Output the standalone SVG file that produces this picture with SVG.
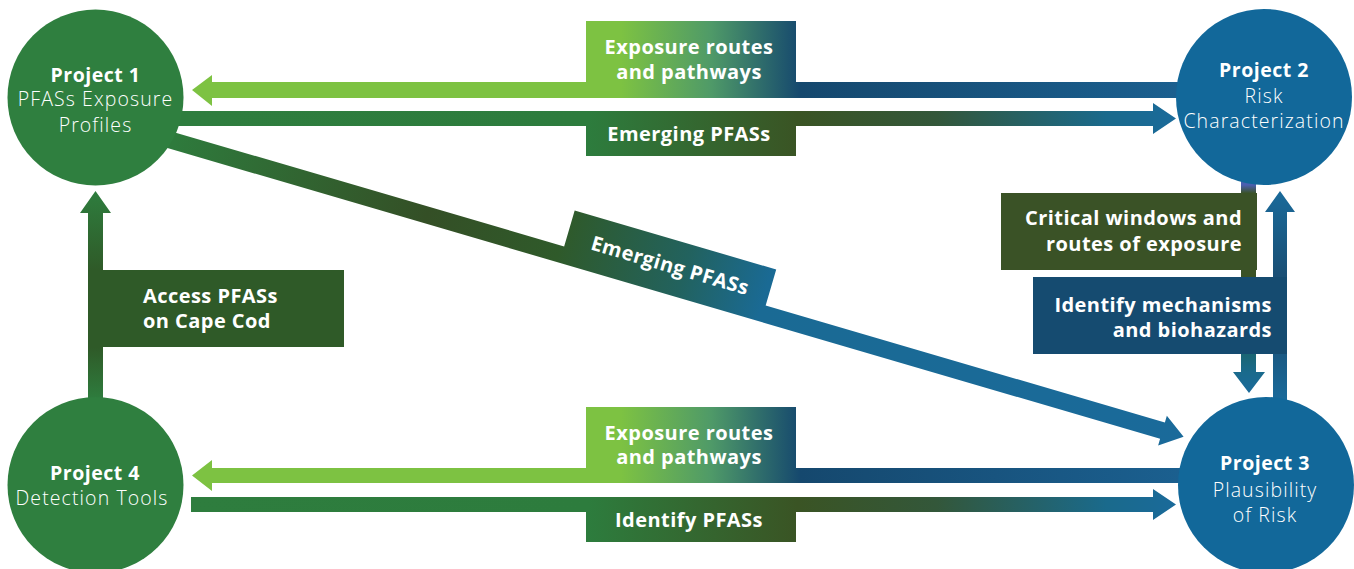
<svg xmlns="http://www.w3.org/2000/svg" width="1354" height="569" viewBox="0 0 1354 569">
<style>
.lbl{font-family:"Open Sans","Liberation Sans",sans-serif;font-weight:700;font-size:20px;fill:#fff;letter-spacing:0.45px}
.t{font-family:"Open Sans","Liberation Sans",sans-serif;font-weight:700;font-size:19.5px;fill:#fff;text-anchor:middle;letter-spacing:0.5px}
.s{font-family:"Open Sans","Liberation Sans",sans-serif;font-weight:300;font-size:19.5px;fill:#fff;text-anchor:middle;letter-spacing:1.1px}
.mid{text-anchor:middle}
.end{text-anchor:end}
.green{fill:#2f7f3f}
.blue{fill:#12689a}
</style>
<defs>
<linearGradient id="gBack" gradientUnits="userSpaceOnUse" x1="192" y1="0" x2="1190" y2="0">
<stop offset="0" stop-color="#7dc242"/>
<stop offset="0.43" stop-color="#7dc242"/>
<stop offset="0.52" stop-color="#4f9a68"/>
<stop offset="0.61" stop-color="#15486e"/>
<stop offset="1" stop-color="#1b6090"/>
</linearGradient>
<linearGradient id="gFwd" gradientUnits="userSpaceOnUse" x1="180" y1="0" x2="1176" y2="0">
<stop offset="0" stop-color="#2e7d3e"/>
<stop offset="0.41" stop-color="#2d7c3d"/>
<stop offset="0.62" stop-color="#3a5424"/>
<stop offset="0.76" stop-color="#33573a"/>
<stop offset="0.93" stop-color="#1a6a8c"/>
<stop offset="1" stop-color="#1a6a9a"/>
</linearGradient>
<linearGradient id="gDiag" gradientUnits="userSpaceOnUse" x1="0" y1="0" x2="1050" y2="0">
<stop offset="0" stop-color="#2e7a3c"/>
<stop offset="0.25" stop-color="#344f26"/>
<stop offset="0.38" stop-color="#2f5a2a"/>
<stop offset="0.5" stop-color="#22625e"/>
<stop offset="0.58" stop-color="#1a6a94"/>
<stop offset="1" stop-color="#1a6a9a"/>
</linearGradient>
<linearGradient id="gLeftV" gradientUnits="userSpaceOnUse" x1="0" y1="191" x2="0" y2="400">
<stop offset="0" stop-color="#2e7d3e"/>
<stop offset="0.38" stop-color="#2f5a28"/>
<stop offset="0.75" stop-color="#2f5a28"/>
<stop offset="1" stop-color="#2e7d3e"/>
</linearGradient>
<linearGradient id="gDown" gradientUnits="userSpaceOnUse" x1="0" y1="185" x2="0" y2="393">
<stop offset="0" stop-color="#4a5fb0"/>
<stop offset="0.04" stop-color="#3a5226"/>
<stop offset="0.46" stop-color="#3a5226"/>
<stop offset="0.81" stop-color="#1a6572"/>
<stop offset="0.9" stop-color="#1a6a8c"/>
<stop offset="1" stop-color="#1a6a9a"/>
</linearGradient>
<linearGradient id="gUp" gradientUnits="userSpaceOnUse" x1="0" y1="191" x2="0" y2="400">
<stop offset="0" stop-color="#1a6a9a"/>
<stop offset="0.4" stop-color="#1a4f75"/>
<stop offset="0.65" stop-color="#1a4f75"/>
<stop offset="1" stop-color="#1a6a9a"/>
</linearGradient>
</defs>

<g id="connectors">
<path fill="url(#gBack)" d="M192,90 L212,75 L212,82 L586,82 L586,21 L796,21 L796,82 L1200,82 L1200,98 L212,98 L212,106 Z"/>
<text class="lbl mid" x="689" y="54">Exposure routes</text>
<text class="lbl mid" x="689" y="79">and pathways</text>
<path fill="url(#gFwd)" d="M150,111 L1153,111 L1153,103 L1176,118.5 L1153,134 L1153,126 L796,126 L796,156 L586,156 L586,126 L150,126 Z"/>
<text class="lbl mid" x="689" y="141">Emerging PFASs</text>
<path fill="url(#gBack)" d="M192,475.5 L212,460 L212,468 L586,468 L586,407 L796,407 L796,468 L1200,468 L1200,483 L212,483 L212,491 Z"/>
<text class="lbl mid" x="689" y="440">Exposure routes</text>
<text class="lbl mid" x="689" y="464">and pathways</text>
<path fill="url(#gFwd)" d="M191,497 L1153,497 L1153,489 L1176,504.5 L1153,520 L1153,512 L796,512 L796,542 L586,542 L586,512 L191,512 Z"/>
<text class="lbl mid" x="689" y="527">Identify PFASs</text>
<g transform="translate(175,141.3) rotate(16.33)">
<path fill="url(#gDiag)" d="M-40,-8.5 L403,-8.5 L403,-46 L613,-46 L613,-8.5 L1029,-8.5 L1029,-15.5 L1051,0 L1029,15.5 L1029,8.5 L-40,8.5 Z"/>
<text class="lbl mid" x="510" y="-13">Emerging PFASs</text>
</g>
<path fill="url(#gLeftV)" d="M95.5,191 L111,213 L103,213 L103,270 L344,270 L344,347 L103,347 L103,420 L88,420 L88,213 L80,213 Z"/>
<text class="lbl" x="143" y="303">Access PFASs</text>
<text class="lbl" x="143" y="328">on Cape Cod</text>
<path fill="url(#gDown)" d="M1241,180 L1256,180 L1256,372 L1265,372 L1249,393 L1233,372 L1241,372 Z"/>
<rect x="1001" y="193" width="256" height="77" fill="#3a5226"/>
<text class="lbl end" x="1242" y="225">Critical windows and</text>
<text class="lbl end" x="1242" y="251">routes of exposure</text>
<path fill="url(#gUp)" d="M1280,191 L1295,212 L1287,212 L1287,420 L1273,420 L1273,212 L1265,212 Z"/>
<rect x="1033" y="277" width="254" height="77" fill="#154b70"/>
<text class="lbl end" x="1272" y="312">Identify mechanisms</text>
<text class="lbl end" x="1272" y="337">and biohazards</text>
</g>

<g id="project1">
<circle class="green" cx="95.5" cy="97.5" r="88"/>
<text class="t" x="95.5" y="82">Project 1</text>
<text class="s" x="95.5" y="106">PFASs Exposure</text>
<text class="s" x="95.5" y="132">Profiles</text>
</g>
<g id="project2">
<circle class="blue" cx="1264" cy="97" r="88"/>
<text class="t" x="1264" y="77">Project 2</text>
<text class="s" x="1264" y="103">Risk</text>
<text class="s" x="1264" y="128">Characterization</text>
</g>
<g id="project3">
<circle class="blue" cx="1266" cy="485" r="88"/>
<text class="t" x="1265" y="470">Project 3</text>
<text class="s" x="1265" y="497">Plausibility</text>
<text class="s" x="1265" y="522">of Risk</text>
</g>
<g id="project4">
<circle class="green" cx="95.5" cy="485" r="88"/>
<text class="t" x="95" y="480">Project 4</text>
<text class="s" x="92" y="505">Detection Tools</text>
</g>
</svg>
